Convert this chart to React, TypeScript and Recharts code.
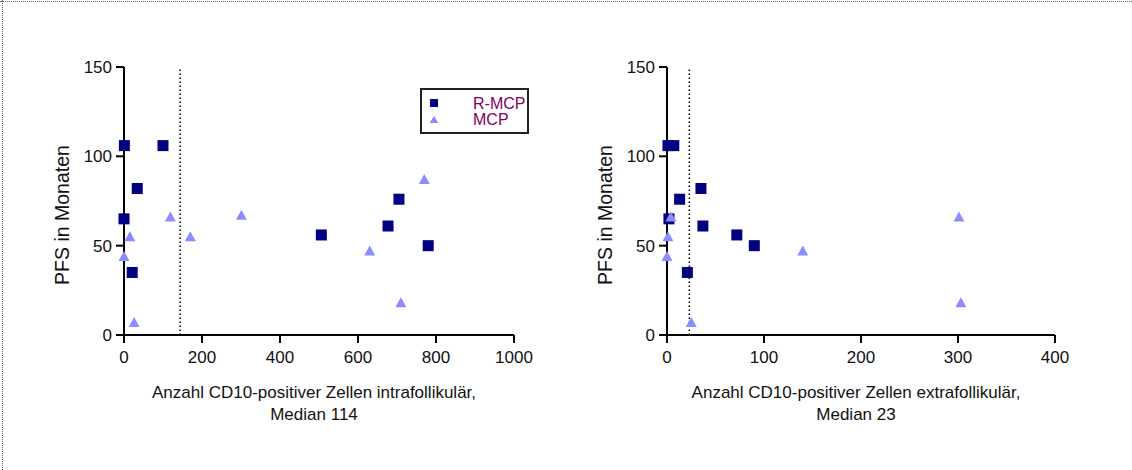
import React from 'react';
import { ScatterChart, Scatter, XAxis, YAxis, ReferenceLine } from 'recharts';

const leftRmcpX = [1, 100, 34, 0, 21, 705, 677, 506, 780];
const leftRmcpY = [106, 106, 82, 65, 35, 76, 61, 56, 50];
const leftMcpX = [119, 15, 0, 170, 301, 26, 770, 630, 710];
const leftMcpY = [66, 55, 44, 55, 67, 7, 87, 47, 18];

const rightRmcpX = [1, 7, 13, 35, 2, 37, 72, 90, 21];
const rightRmcpY = [106, 106, 76, 82, 65, 61, 56, 50, 35];
const rightMcpX = [4, 1, 0, 25, 140, 301, 303];
const rightMcpY = [66, 55, 44, 7, 47, 66, 18];

const yTicks = [0, 50, 100, 150];
const leftXTicks = [0, 200, 400, 600, 800, 1000];
const rightXTicks = [0, 100, 200, 300, 400];

const leftMedianLine = 144;
const rightMedianLine = 23;

const seriesNames = ['R-MCP', 'MCP'];
const yTitle = 'PFS in Monaten';
const leftXTitle = ['Anzahl CD10-positiver Zellen intrafollikulär,', 'Median 114'];
const rightXTitle = ['Anzahl CD10-positiver Zellen extrafollikulär,', 'Median 23'];

const NAVY = '#000080';
const LIGHT = '#8c8cff';
const LEGEND_TEXT = '#800060';
const FONT = '"Liberation Sans", Arial, sans-serif';

const zip = (xs: number[], ys: number[]) => xs.map((x, i) => ({ x, y: ys[i] }));

const SquareShape = (props: any) => {
  const { cx, cy } = props;
  return <rect x={cx - 5.5} y={cy - 5.5} width={11} height={11} fill={NAVY} />;
};
const TriangleShape = (props: any) => {
  const { cx, cy } = props;
  return (
    <polygon
      points={`${cx},${cy - 5.5} ${cx + 5.5},${cy + 4.5} ${cx - 5.5},${cy + 4.5}`}
      fill={LIGHT}
    />
  );
};

const makeXTitle = (lines: string[]) => (props: any) => {
  const { x, y, width } = props.viewBox;
  const cx = x + width / 2 - 5;
  return (
    <text textAnchor="middle" fontFamily={FONT} fontSize={17} fill="#111">
      <tspan x={cx} y={y + 63}>{lines[0]}</tspan>
      <tspan x={cx} y={y + 85}>{lines[1]}</tspan>
    </text>
  );
};

const YTitle = (props: any) => {
  const { x, y, width, height } = props.viewBox;
  const bx = x + width - 55;
  const cy = y + height / 2 + 14;
  return (
    <text
      x={bx}
      y={cy}
      transform={`rotate(-90 ${bx} ${cy})`}
      textAnchor="middle"
      fontFamily={FONT}
      fontSize={19.5}
      fill="#111"
    >
      {yTitle}
    </text>
  );
};

const LegendBox = () => (
  <div
    style={{
      position: 'absolute',
      left: 420,
      top: 88,
      width: 105,
      height: 42,
      border: '2px solid #222',
      background: '#fff',
    }}
  >
    <svg width={105} height={42} style={{ position: 'absolute', left: 0, top: 0 }}>
      <rect x={8} y={9} width={8} height={8} fill={NAVY} />
      <polygon points="12,26 16.5,33 7.5,33" fill={LIGHT} />
      <text x={51} y={19} fontSize={16} fill={LEGEND_TEXT} fontFamily={FONT}>{seriesNames[0]}</text>
      <text x={51} y={35} fontSize={16} fill={LEGEND_TEXT} fontFamily={FONT}>{seriesNames[1]}</text>
    </svg>
  </div>
);

const tickStyle = { fontSize: 17, fill: '#111', fontFamily: FONT };
const axisLine = { stroke: '#000', strokeWidth: 2 };
const tickLine = { stroke: '#000', strokeWidth: 2 };

export default function App() {
  return (
    <div style={{ position: 'absolute', left: 0, top: 0, width: 1132, height: 470, background: '#fff', overflow: 'hidden' }}>
      <div style={{ position: 'absolute', left: 0, top: 1, width: 1132, borderTop: '1px dotted #666' }} />
      <div style={{ position: 'absolute', left: 2, top: 0, height: 470, borderLeft: '1px dotted #666' }} />

      <div style={{ position: 'absolute', left: 0, top: 0 }}>
        <ScatterChart width={560} height={470} margin={{ top: 67, left: 64, right: 46, bottom: 95 }}>
          <XAxis
            type="number"
            dataKey="x"
            domain={[0, 1000]}
            ticks={leftXTicks}
            height={40}
            tickSize={8}
            tickMargin={8}
            tick={tickStyle}
            axisLine={axisLine}
            tickLine={tickLine}
            label={{ content: makeXTitle(leftXTitle) }}
          />
          <YAxis
            type="number"
            dataKey="y"
            domain={[0, 150]}
            ticks={yTicks}
            width={60}
            tickSize={8}
            tickMargin={4}
            tick={tickStyle}
            axisLine={axisLine}
            tickLine={tickLine}
            label={{ content: YTitle }}
          />
          <ReferenceLine
            segment={[{ x: leftMedianLine, y: 0 }, { x: leftMedianLine, y: 150 }]}
            stroke="#000"
            strokeWidth={1.5}
            strokeDasharray="1.5 2.5"
          />
          <Scatter name={seriesNames[0]} data={zip(leftRmcpX, leftRmcpY)} shape={SquareShape} isAnimationActive={false} />
          <Scatter name={seriesNames[1]} data={zip(leftMcpX, leftMcpY)} shape={TriangleShape} isAnimationActive={false} />
        </ScatterChart>
      </div>
      <LegendBox />

      <div style={{ position: 'absolute', left: 560, top: 0 }}>
        <ScatterChart width={572} height={470} margin={{ top: 67, left: 47, right: 77, bottom: 95 }}>
          <XAxis
            type="number"
            dataKey="x"
            domain={[0, 400]}
            ticks={rightXTicks}
            height={40}
            tickSize={8}
            tickMargin={8}
            tick={tickStyle}
            axisLine={axisLine}
            tickLine={tickLine}
            label={{ content: makeXTitle(rightXTitle) }}
          />
          <YAxis
            type="number"
            dataKey="y"
            domain={[0, 150]}
            ticks={yTicks}
            width={60}
            tickSize={8}
            tickMargin={4}
            tick={tickStyle}
            axisLine={axisLine}
            tickLine={tickLine}
            label={{ content: YTitle }}
          />
          <ReferenceLine
            segment={[{ x: rightMedianLine, y: 0 }, { x: rightMedianLine, y: 150 }]}
            stroke="#000"
            strokeWidth={1.5}
            strokeDasharray="1.5 2.5"
          />
          <Scatter name={seriesNames[0]} data={zip(rightRmcpX, rightRmcpY)} shape={SquareShape} isAnimationActive={false} />
          <Scatter name={seriesNames[1]} data={zip(rightMcpX, rightMcpY)} shape={TriangleShape} isAnimationActive={false} />
        </ScatterChart>
      </div>
    </div>
  );
}
